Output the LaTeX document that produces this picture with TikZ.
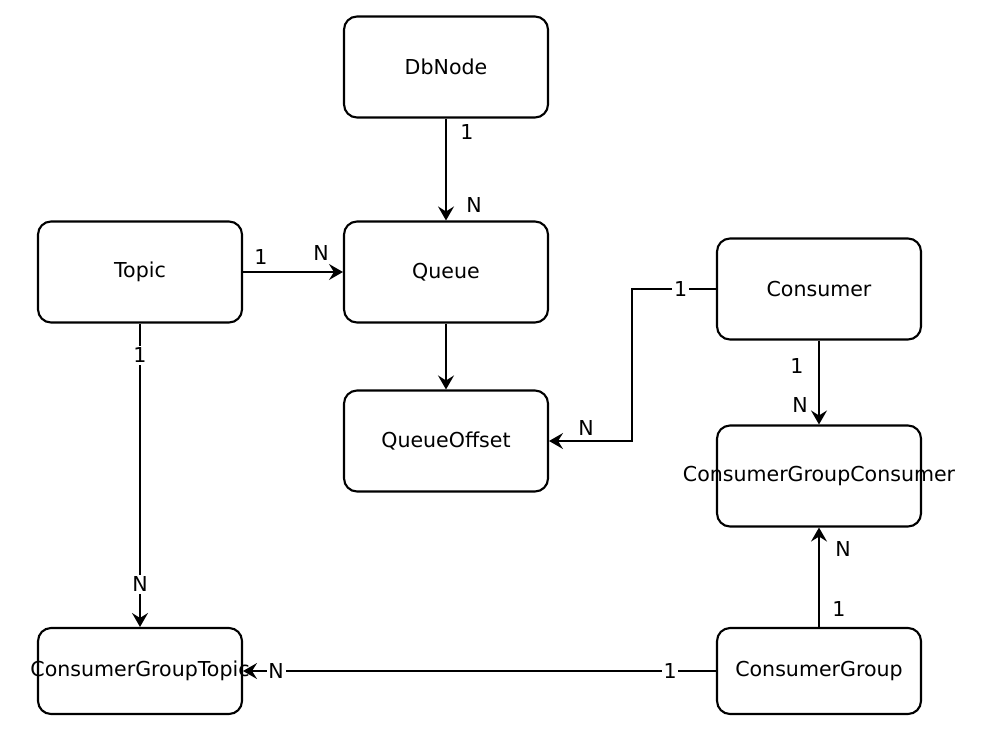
\documentclass[tikz,border=0pt]{standalone}
\usepackage{fontspec}
\setmainfont{DejaVu Sans}
\usetikzlibrary{arrows.meta}

\begin{document}
\begin{tikzpicture}[x=0.02cm, y=-0.02cm,
  ent/.style={draw, line width=1.2pt, rounded corners=0.26cm, minimum width=4.08cm, minimum height=2.02cm, inner sep=0pt, font=\fontsize{11.7}{14}\selectfont},
  entlow/.style={ent, minimum height=1.72cm},
  rel/.style={line width=0.8pt, -{Stealth[length=0.28cm, width=0.32cm, inset=0.1cm]}},
  card/.style={inner sep=1pt, font=\fontsize{11.7}{14}\selectfont},
  cardon/.style={card, fill=white}]
  \useasboundingbox (0,0) rectangle (1000,740);

  \node [ent] (DbNode) at (446,67) {DbNode};
  \node [ent] (Topic) at (140,272) {Topic};
  \node [ent] (Queue) at (446,272) {Queue};
  \node [ent] (QueueOffset) at (446,441) {QueueOffset};
  \node [ent] (Consumer) at (819,289) {Consumer};
  \node [ent] (CGConsumer) at (819,476) {\makebox[0pt]{ConsumerGroupConsumer}};
  \node [entlow] (CGTopic) at (140,671) {\makebox[0pt]{ConsumerGroupTopic}};
  \node [entlow] (CGroup) at (819,671) {ConsumerGroup};

  \draw [rel] (DbNode) -- (Queue);
  \node [card] at (467,132) {1};
  \node [card] at (474,205) {N};

  \draw [rel] (Topic) -- (Queue);
  \node [card] at (261,257) {1};
  \node [card] at (321,253) {N};

  \draw [rel] (Queue) -- (QueueOffset);

  \coordinate (bend) at (632,289);
  \draw [rel] (Consumer) -- node [cardon, pos=0.42] {1} (bend) |- (QueueOffset);
  \node [card] at (586,428) {N};

  \draw [rel] (Consumer) -- (CGConsumer);
  \node [card] at (797,366) {1};
  \node [card] at (800,405) {N};

  \draw [rel] (CGroup) -- (CGConsumer);
  \node [card] at (843,549) {N};
  \node [card] at (839,609) {1};

  \draw [rel] (Topic) -- node [cardon, pos=0.105] {1} node [cardon, pos=0.86] {N} (CGTopic);

  \draw [rel] (CGroup) -- node [cardon, pos=0.097] {1} node [cardon, pos=0.93] {N} (CGTopic);
\end{tikzpicture}
\end{document}
